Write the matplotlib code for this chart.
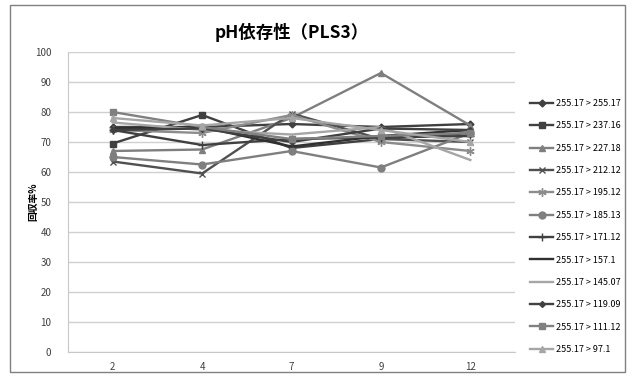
import matplotlib
matplotlib.use("Agg")
import matplotlib.pyplot as plt
from matplotlib.patches import Rectangle
import numpy as np

plt.rcParams['font.family'] = ['Noto Sans CJK JP', 'DejaVu Sans']

ph = ["2", "4", "7", "9", "12"]
labels = ["255.17 > 255.17", "255.17 > 237.16", "255.17 > 227.18", "255.17 > 212.12",
          "255.17 > 195.12", "255.17 > 185.13", "255.17 > 171.12", "255.17 > 157.1",
          "255.17 > 145.07", "255.17 > 119.09", "255.17 > 111.12", "255.17 > 97.1"]
s_25517 = [75, 75, 76, 75, 76]
s_23716 = [69.5, 79, 68, 71, 73]
s_22718 = [67, 67.5, 78, 93, 75.5]
s_21212 = [63.5, 59.5, 79.5, 71, 70]
s_19512 = [74, 73, 79, 70, 67]
s_18513 = [65, 62.5, 67, 61.5, 73]
s_17112 = [74, 69, 71, 71.5, 72]
s_1571 = [74.5, 75, 68.5, 72, 74]
s_14507 = [76.5, 74, 72.5, 75, 64]
s_11909 = [74, 74.5, 70, 74.5, 74]
s_11112 = [80, 75, 71, 72, 73]
s_971 = [78, 75.5, 78, 74, 70]
series = [s_25517, s_23716, s_22718, s_21212, s_19512, s_18513,
          s_17112, s_1571, s_14507, s_11909, s_11112, s_971]

# grayscale styles (colour, marker, marker size)
styles = [("#404040", "D", 3.5), ("#404040", "s", 5), ("#7f7f7f", "^", 5),
          ("#505050", "x", 5), ("#8c8c8c", (6, 2, 0), 6), ("#7f7f7f", "o", 5),
          ("#404040", "+", 6), ("#303030", "", 0), ("#a6a6a6", "", 0),
          ("#404040", "D", 3), ("#808080", "s", 5), ("#a6a6a6", "^", 5)]

fig = plt.figure(figsize=(6.32, 3.78), dpi=100)
ax = fig.add_axes([68/632, 1-352/378, (515-68)/632, 300/378])

x = np.arange(len(ph))
for vals, lab, (c, m, ms) in zip(series, labels, styles):
    ax.plot(x, vals, color=c, marker=m, markersize=ms, linewidth=1.7,
            markeredgecolor=c, label=lab)

ax.set_xlim(-0.5, 4.5)
ax.set_ylim(0, 100)
ax.set_yticks(range(0, 101, 10))
ax.set_xticks(x)
ax.set_xticklabels(ph)
ax.tick_params(axis="both", labelsize=7, length=0, colors="#404040")
ax.tick_params(axis="y", pad=12)
ax.tick_params(axis="x", pad=7)
ax.grid(axis="y", color="#d0d0d0", linewidth=1)
ax.set_axisbelow(True)
for side in ["top", "right"]:
    ax.spines[side].set_visible(False)
ax.spines["left"].set_color("#c8c8c8")
ax.spines["bottom"].set_color("#c8c8c8")

ax.set_ylabel("回収率%", fontsize=7, fontweight="bold")
ax.yaxis.set_label_coords((38-68)/447, 0.5)
fig.text(292/632, 1-32/378, "pH依存性（PLS3）", fontsize=12.5, fontweight="bold",
         ha="center", va="center")

ax.legend(loc="upper left", bbox_to_anchor=(530/632, 1-99/378),
          bbox_transform=fig.transFigure, frameon=False, fontsize=6.5,
          handlelength=2.6, labelspacing=1.48, handletextpad=0.3,
          borderaxespad=0, borderpad=0)

fig.patches.append(Rectangle((10/632, 1-372/378), 615/632, 367/378,
                             transform=fig.transFigure, fill=False,
                             edgecolor="#808080", linewidth=1))

fig.savefig("out.png", dpi=100)
